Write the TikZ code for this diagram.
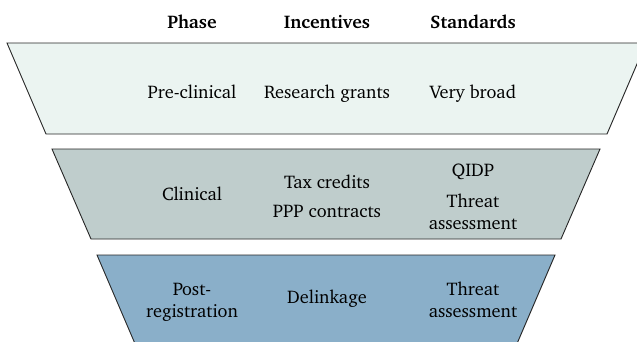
\documentclass[tikz,border=0pt]{standalone}
\usepackage[T1]{fontenc}
\usepackage{charter}
\definecolor{preclin}{HTML}{EBF4F1}
\definecolor{clin}{HTML}{BFCDCC}
\definecolor{postreg}{HTML}{8AAFC9}
\begin{document}
\begin{tikzpicture}[x=1pt,y=-1pt]

    \tikzset{
      band/.style={
        draw=black!85,
        line width=0.9pt,
      },
      cell/.style={
        anchor=base,
        align=center,
        inner sep=0pt,
        font=\fontsize{18.3}{22}\selectfont,
      },
      head/.style={
        cell,
        font=\fontsize{18.3}{22}\selectfont\bfseries,
      },
    }
    \clip (0,0) rectangle (637,341);
    \fill[white] (0,0) rectangle (637,341);

    % the three bands of the funnel
    \draw[band, fill=preclin] (7,43)--(646,43)--(607,134)--(46,134)--cycle;
    \draw[band, fill=clin] (52,149)--(600,149)--(561,239)--(91,239)--cycle;
    \draw[band, fill=postreg] (97,255)--(555,255)--(516,346)--(136,346)--cycle;

    % column heads
    \node[head] (phase) at (192,28) {Phase};
    \node[head] (incentives) at (327,28) {Incentives};
    \node[head] (standards) at (473,28) {Standards};

    % pre-clinical (base = last line)
    \node[cell] (preclinical) at (192,98) {Pre-clinical};
    \node[cell] (grants) at (327,98) {Research grants};
    \node[cell] (broad) at (473,98) {Very broad};

    % clinical
    \node[cell] (clinical) at (192,200.5) {Clinical};
    \node[cell] (taxcredits) at (327,188) {Tax credits};
    \node[cell] (pppcontracts) at (327,217.5) {PPP contracts};
    \node[cell] (qidp) at (473,176) {QIDP};
    \node[cell] (threatclin) at (473,229) {Threat\\assessment};

    % post-registration
    \node[cell] (postreg) at (192,317) {Post-\\registration};
    \node[cell] (delinkage) at (327,303.5) {Delinkage};
    \node[cell] (threatpost) at (473,317) {Threat\\assessment};

\end{tikzpicture}
\end{document}
